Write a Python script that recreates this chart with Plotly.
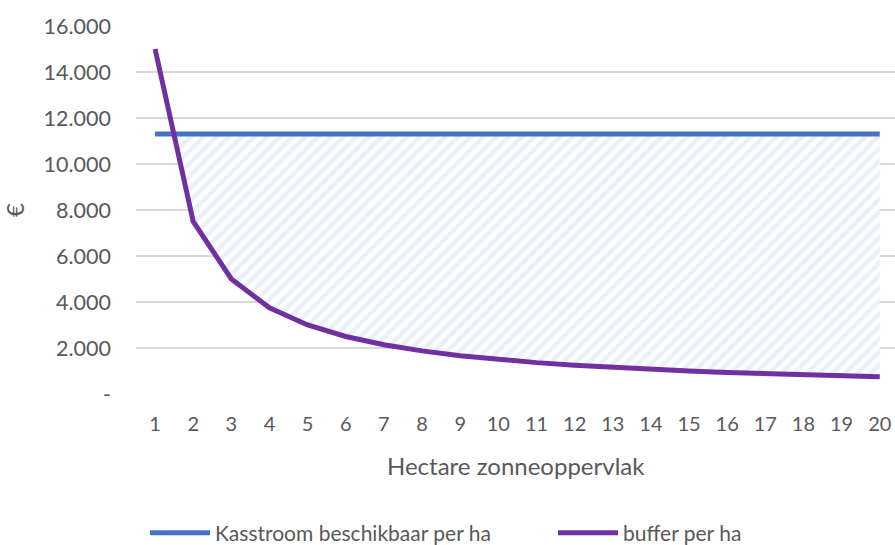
import plotly.graph_objects as go

# Hectares of solar-panel zone (x categories)
hectares = list(range(1, 21))
# Available cash flow per hectare (€), constant
kasstroom = [11300] * 20
# Buffer per hectare (€)
buffer = [15000, 7500, 5000, 3750, 3000, 2500, 2143, 1875, 1667, 1500,
          1364, 1250, 1154, 1071, 1000, 938, 882, 833, 789, 750]

y_ticks = [0, 2000, 4000, 6000, 8000, 10000, 12000, 14000, 16000]
y_labels = ["-", "2.000", "4.000", "6.000", "8.000", "10.000", "12.000", "14.000", "16.000"]

BLUE = "#4472C4"
PURPLE = "#7030A0"
GREY = "#595959"
FONT = "Lato, 'Open Sans', sans-serif"

# Shaded region: where the cash flow exceeds the buffer.
# Start at the crossing between the first two points.
x0, x1 = hectares[0], hectares[1]
b0, b1 = buffer[0], buffer[1]
k = kasstroom[0]
x_cross = x0 + (b0 - k) / (b0 - b1) * (x1 - x0)
fill_x = [x_cross] + hectares[1:]
fill_low = [k] + buffer[1:]
fill_high = [k] + kasstroom[1:]

fig = go.Figure()
fig.add_trace(go.Scatter(x=fill_x, y=fill_low, mode="lines", line=dict(width=0),
                         showlegend=False, hoverinfo="skip"))
fig.add_trace(go.Scatter(x=fill_x, y=fill_high, mode="lines", line=dict(width=0),
                         fill="tonexty", fillcolor="rgba(0,0,0,0)",
                         fillpattern=dict(shape="/", fgcolor="#d3e2f4", bgcolor="white",
                                          size=9, solidity=0.5),
                         showlegend=False, hoverinfo="skip"))
fig.add_trace(go.Scatter(x=hectares, y=kasstroom, mode="lines",
                         name="Kasstroom beschikbaar per ha", legend="legend",
                         line=dict(color=BLUE, width=5)))
fig.add_trace(go.Scatter(x=hectares, y=buffer, mode="lines",
                         name="buffer per ha", legend="legend2",
                         line=dict(color=PURPLE, width=5)))

legend_common = dict(orientation="h", xref="container", xanchor="left",
                     yref="container", y=0.022, yanchor="middle",
                     font=dict(family=FONT, size=21, color=GREY), itemwidth=60,
                     bgcolor="rgba(0,0,0,0)")

fig.update_layout(
    width=895, height=545,
    margin=dict(l=136, r=0, t=26, b=151),
    paper_bgcolor="white", plot_bgcolor="white",
    font=dict(family=FONT, size=20, color=GREY),
    xaxis=dict(range=[0.5, 20.4], tickmode="array", tickvals=hectares,
               ticktext=[str(h) for h in hectares], showgrid=False,
               zeroline=False, showline=False, ticks="", ticklabelstandoff=16,
               tickfont=dict(size=20)),
    yaxis=dict(range=[0, 16000], tickmode="array", tickvals=y_ticks, ticktext=y_labels,
               showgrid=True, gridcolor="#d9d9d9", gridwidth=1.5, zeroline=False,
               showline=False, ticks="", ticklabelstandoff=24,
               title=dict(text="€", standoff=20), tickfont=dict(size=21.5)),
    legend=dict(x=145 / 895, **legend_common),
    legend2=dict(x=553 / 895, **legend_common),
    annotations=[dict(text="Hectare zonneoppervlak", xref="paper", x=0.5,
                      xanchor="center", yref="paper", y=-0.195,
                      yanchor="middle", showarrow=False,
                      font=dict(family=FONT, size=24, color=GREY))],
)

fig.write_html("out.html")
